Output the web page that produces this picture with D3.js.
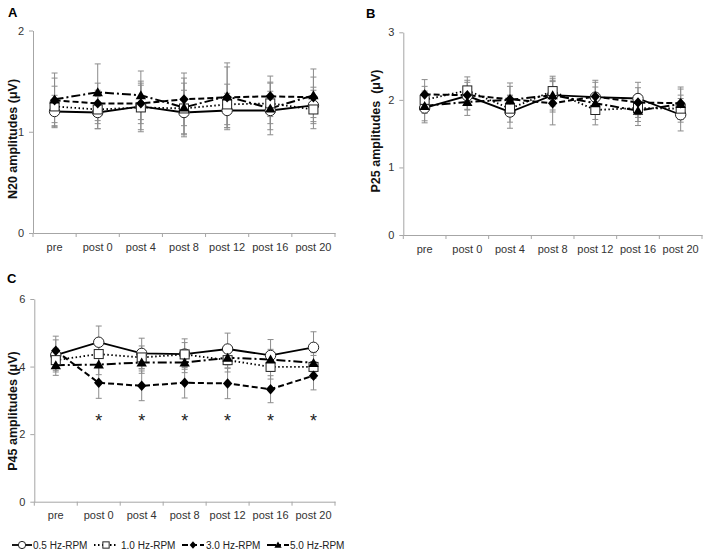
<!DOCTYPE html>
<html><head><meta charset="utf-8">
<script src="https://cdn.jsdelivr.net/npm/d3@7"></script>
<style>body{margin:0;background:#fff;} svg{display:block;font-family:"Liberation Sans",Arial,sans-serif;}</style>
</head><body>
<svg id="c" width="708" height="553"></svg>
<script>
const categories = ["pre","post 0","post 4","post 8","post 12","post 16","post 20"];
const seriesNames = ["0.5 Hz-RPM","1.0 Hz-RPM","3.0 Hz-RPM","5.0 Hz-RPM"];

// N20 (panel A)
const n20_05 = [1.20,1.19,1.25,1.19,1.21,1.21,1.26];
const n20_10 = [1.25,1.22,1.24,1.23,1.27,1.28,1.22];
const n20_30 = [1.31,1.28,1.28,1.32,1.34,1.35,1.34];
const n20_50 = [1.32,1.39,1.36,1.24,1.35,1.23,1.36];
const n20Err05 = [0.16,0.16,0.25,0.22,0.17,0.19,0.18];
const n20Err10 = [0.20,0.19,0.22,0.25,0.20,0.20,0.19];
const n20Err30 = [0.22,0.20,0.20,0.26,0.30,0.20,0.20];
const n20Err50 = [0.26,0.28,0.24,0.29,0.33,0.26,0.26];

// P25 (panel B)
const p25_05 = [1.88,2.06,1.82,2.07,2.04,2.02,1.78];
const p25_10 = [2.00,2.14,1.87,2.13,1.85,1.88,1.87];
const p25_30 = [2.08,2.07,2.01,1.95,2.05,1.96,1.95];
const p25_50 = [1.91,1.97,2.00,2.07,1.95,1.84,1.94];
const p25Err05 = [0.22,0.20,0.24,0.22,0.22,0.24,0.24];
const p25Err10 = [0.20,0.20,0.20,0.22,0.22,0.20,0.20];
const p25Err30 = [0.22,0.22,0.24,0.32,0.24,0.22,0.24];
const p25Err50 = [0.22,0.20,0.20,0.25,0.24,0.22,0.22];

// P45 (panel C)
const p45_05 = [4.34,4.72,4.39,4.37,4.52,4.33,4.57];
const p45_10 = [4.19,4.37,4.27,4.36,4.19,3.99,3.99];
const p45_30 = [4.47,3.52,3.43,3.52,3.50,3.33,3.73];
const p45_50 = [4.04,4.06,4.12,4.12,4.26,4.21,4.11];
const p45Err05 = [0.45,0.48,0.45,0.45,0.47,0.47,0.46];
const p45Err10 = [0.35,0.36,0.34,0.35,0.35,0.36,0.34];
const p45Err30 = [0.43,0.46,0.44,0.45,0.45,0.40,0.42];
const p45Err50 = [0.30,0.30,0.32,0.30,0.30,0.30,0.30];
const p45Sig = ["","*","*","*","*","*","*"];

const yTicksA = [0,1,2], yTicksB = [0,1,2,3], yTicksC = [0,2,4,6];

const styles = [
  {dash:null, width:1.8, marker:"circle"},
  {dash:"1.5,2.5", width:1.8, marker:"square"},
  {dash:"6,3", width:2, marker:"diamond"},
  {dash:"9,3,2,3", width:2, marker:"triangle"}
];

const svg = d3.select("#c");

function drawMarker(g, type, x, y, s) {
  if (type === "circle") {
    g.append("circle").attr("cx",x).attr("cy",y).attr("r",s*0.52).attr("fill","#fff").attr("stroke","#222").attr("stroke-width",1);
  } else if (type === "square") {
    g.append("rect").attr("x",x-s*0.45).attr("y",y-s*0.45).attr("width",s*0.9).attr("height",s*0.9).attr("fill","#fff").attr("stroke","#222").attr("stroke-width",1);
  } else if (type === "diamond") {
    const w = s*0.47, h = s*0.52;
    g.append("path").attr("d",`M${x},${y-h}L${x+w},${y}L${x},${y+h}L${x-w},${y}Z`).attr("fill","#000");
  } else {
    const w = s*0.52, h = s*0.9;
    g.append("path").attr("d",`M${x},${y-h*0.55}L${x+w},${y+h*0.45}L${x-w},${y+h*0.45}Z`).attr("fill","#000");
  }
}

function panel(cfg) {
  const g = svg.append("g");
  const x = d3.scaleBand().domain(categories).range([cfg.x0, cfg.x1]);
  const y = d3.scaleLinear().domain([0, cfg.ymax]).range([cfg.y0, cfg.ytop]);
  const xa = g.append("g").attr("transform",`translate(0,${cfg.y0})`)
    .call(d3.axisBottom(x).tickSizeInner(0).tickSizeOuter(0).tickPadding(10));
  xa.select(".domain").attr("stroke","#a6a6a6");
  xa.selectAll("text").attr("font-size",11).attr("fill","#333");
  const bounds = categories.map(c => x(c)).concat([cfg.x1]);
  g.selectAll(null).data(bounds).enter().append("line")
    .attr("x1",d=>d).attr("x2",d=>d).attr("y1",cfg.y0).attr("y2",cfg.y0+4).attr("stroke","#a6a6a6");
  const ya = g.append("g").attr("transform",`translate(${cfg.x0},0)`)
    .call(d3.axisLeft(y).tickValues(cfg.ticks).tickFormat(d3.format("d")).tickSizeInner(4).tickSizeOuter(0).tickPadding(5));
  ya.select(".domain").attr("stroke","#a6a6a6");
  ya.selectAll("line").attr("stroke","#a6a6a6");
  ya.selectAll("text").attr("font-size",11).attr("fill","#333");
  g.append("text").attr("transform",`translate(${cfg.lx},${cfg.ly}) rotate(-90)`)
    .attr("text-anchor","middle").attr("font-size",12.5).attr("font-weight","bold").attr("fill","#111")
    .style("white-space","pre").text(cfg.label);
  g.append("text").attr("x",cfg.px).attr("y",cfg.py).attr("font-size",13).attr("font-weight","bold").text(cfg.letter);
  const cx = c => x(c) + x.bandwidth()/2;
  cfg.series.forEach((vals, si) => {
    const err = cfg.errs[si];
    const eg = g.append("g").attr("stroke","#8c8c8c").attr("stroke-width",1);
    vals.forEach((v,i) => {
      const xc = cx(categories[i]);
      eg.append("line").attr("x1",xc).attr("x2",xc).attr("y1",y(v-err[i])).attr("y2",y(v+err[i]));
      [v-err[i], v+err[i]].forEach(e => eg.append("line").attr("x1",xc-3).attr("x2",xc+3).attr("y1",y(e)).attr("y2",y(e)));
    });
  });
  cfg.series.forEach((vals, si) => {
    const st = styles[si];
    const line = d3.line().x((d,i)=>cx(categories[i])).y(d=>y(d));
    g.append("path").datum(vals).attr("d",line).attr("fill","none").attr("stroke","#000")
      .attr("stroke-width",st.width).attr("stroke-dasharray",st.dash);
  });
  cfg.series.forEach((vals, si) => {
    vals.forEach((v,i) => drawMarker(g, styles[si].marker, cx(categories[i]), y(v), 10));
  });
  if (cfg.sig) {
    g.selectAll(null).data(cfg.sig).enter().append("text")
      .attr("x",(d,i)=>cx(categories[i])).attr("y",cfg.sigY).attr("text-anchor","middle")
      .attr("font-size",18).attr("fill","#222").text(d=>d);
  }
}

panel({x0:33,x1:335,y0:233,ytop:30.5,ymax:2,ticks:yTicksA,label:"N20 amplitudes (\u03bcV)",lx:16.5,ly:139,letter:"A",px:8,py:17,
  series:[n20_05,n20_10,n20_30,n20_50],errs:[n20Err05,n20Err10,n20Err30,n20Err50]});
panel({x0:403.3,x1:702,y0:235,ytop:32.3,ymax:3,ticks:yTicksB,label:"P25 amplitudes  (\u03bcV)",lx:380,ly:131,letter:"B",px:366,py:18,
  series:[p25_05,p25_10,p25_30,p25_50],errs:[p25Err05,p25Err10,p25Err30,p25Err50]});
panel({x0:34.3,x1:335,y0:501.7,ytop:299,ymax:6,ticks:yTicksC,label:"P45 amplitudes (\u03bcV)",lx:16.5,ly:411,letter:"C",px:7,py:283,
  series:[p45_05,p45_10,p45_30,p45_50],errs:[p45Err05,p45Err10,p45Err30,p45Err50],sig:p45Sig,sigY:427});

// legend
const legLine = [[12,32],[94,118],[182,204],[267,289]];
const legText = [33,121,206,290];
const leg = svg.append("g");
seriesNames.forEach((n, i) => {
  const yc = 545, st = styles[i], [a,b] = legLine[i];
  leg.append("line").attr("x1",a).attr("x2",b).attr("y1",yc).attr("y2",yc).attr("stroke","#000")
    .attr("stroke-width",st.width).attr("stroke-dasharray",st.dash);
  drawMarker(leg, st.marker, (a+b)/2, yc, 7);
  leg.append("text").attr("x",legText[i]).attr("y",yc+3.5).attr("font-size",10).attr("fill","#222").text(n);
});
</script>
</body></html>
